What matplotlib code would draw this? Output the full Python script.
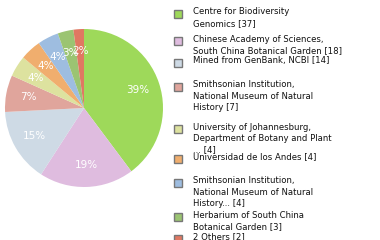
import matplotlib
matplotlib.use("Agg")
import matplotlib.pyplot as plt
from matplotlib.patches import Rectangle

labels = [
    "Centre for Biodiversity\nGenomics [37]",
    "Chinese Academy of Sciences,\nSouth China Botanical Garden [18]",
    "Mined from GenBank, NCBI [14]",
    "Smithsonian Institution,\nNational Museum of Natural\nHistory [7]",
    "University of Johannesburg,\nDepartment of Botany and Plant\n... [4]",
    "Universidad de los Andes [4]",
    "Smithsonian Institution,\nNational Museum of Natural\nHistory... [4]",
    "Herbarium of South China\nBotanical Garden [3]",
    "2 Others [2]",
]
values = [37, 18, 14, 7, 4, 4, 4, 3, 2]
colors = ["#9ed95a", "#dfbcdf", "#cedae5", "#e0a59c", "#dde29f",
          "#f0ae6e", "#9ebde0", "#9bc472", "#e07862"]

W, H = 380, 240
fig = plt.figure(figsize=(W/100, H/100), dpi=100)
cx, cy, r = 84, 108, 79
ax = fig.add_axes([(cx - r)/W, 1 - (cy + r)/H, 2*r/W, 2*r/H])
total = sum(values)
wedges, texts = ax.pie(values, colors=colors, startangle=90, counterclock=False,
                       radius=1.0, labels=[f"{int(v*100/total)}%" for v in values],
                       labeldistance=0.72,
                       wedgeprops=dict(linewidth=0),
                       textprops=dict(color="white", fontsize=7.5, family="DejaVu Sans"))
for t in texts:
    t.set_ha("center"); t.set_va("center")
ax.set_xlim(-1, 1); ax.set_ylim(-1, 1)
ax.set_aspect("equal")
ax.axis("off")

ys = [13, 40, 62, 86, 128, 158, 182, 216, 238]
for y, lab, c in zip(ys, labels, colors):
    fig.patches.append(Rectangle(((173.5)/W, 1 - (y + 4.5)/H), 8/W, 8/H,
                                 transform=fig.transFigure, facecolor=c,
                                 edgecolor="#777777", linewidth=1))
    fig.text(193/W, 1 - (y - 5.5)/H, lab, fontsize=6.1, va="top", ha="left",
             color="#111111", linespacing=1.32, family="DejaVu Sans")

fig.savefig("out.png", dpi=100)
